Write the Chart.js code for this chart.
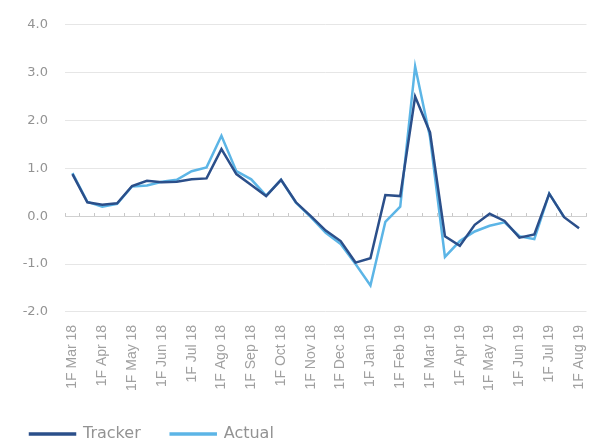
<!DOCTYPE html>
<html>
<head>
    <title>Tracker vs Actual</title>
    <script src="https://cdn.jsdelivr.net/npm/chart.js@4.4.0/dist/chart.umd.min.js"></script>
    <style>
        html, body { margin: 0; padding: 0; background: #fff; }
    </style>
</head>
<body>
    <canvas id="trackerChart" width="601" height="441"></canvas>

    <script>
        const periods = [
            '1F Mar 18', '2F Mar 18', '1F Apr 18', '2F Apr 18', '1F May 18', '2F May 18',
            '1F Jun 18', '2F Jun 18', '1F Jul 18', '2F Jul 18', '1F Ago 18', '2F Ago 18',
            '1F Sep 18', '2F Sep 18', '1F Oct 18', '2F Oct 18', '1F Nov 18', '2F Nov 18',
            '1F Dec 18', '2F Dec 18', '1F Jan 19', '2F Jan 19', '1F Feb 19', '2F Feb 19',
            '1F Mar 19', '2F Mar 19', '1F Apr 19', '2F Apr 19', '1F May 19', '2F May 19',
            '1F Jun 19', '2F Jun 19', '1F Jul 19', '2F Jul 19', '1F Aug 19'
        ];
        const tracker = [
            0.88, 0.29, 0.24, 0.27, 0.63, 0.74, 0.71, 0.72, 0.77, 0.79, 1.40, 0.88,
            0.65, 0.42, 0.76, 0.29, 0.00, -0.30, -0.52, -0.97, -0.88, 0.44, 0.42, 2.50,
            1.75, -0.42, -0.62, -0.18, 0.05, -0.10, -0.45, -0.38, 0.47, -0.02, -0.25
        ];
        const actual = [
            0.90, 0.30, 0.20, 0.26, 0.62, 0.64, 0.72, 0.76, 0.94, 1.02, 1.68, 0.94,
            0.77, 0.43, 0.76, 0.28, -0.02, -0.35, -0.58, -1.00, -1.45, -0.12, 0.20, 3.13,
            1.65, -0.85, -0.52, -0.32, -0.20, -0.13, -0.42, -0.48, 0.47, -0.02, null
        ];

        const grey = '#939393';

        // legend keeps wide gaps between items but less empty height
        const legendFit = {
            id: 'legendFit',
            beforeLayout(chart) {
                const legend = chart.legend;
                if (!legend || legend._patched) return;
                const fit = legend.fit;
                legend.fit = function () {
                    fit.call(this);
                    this.height -= 11;
                };
                legend._patched = true;
            }
        };

        new Chart(document.getElementById('trackerChart'), {
            type: 'line',
            data: {
                labels: periods,
                datasets: [{
                    label: 'Tracker',
                    data: tracker,
                    borderColor: '#2b4f8a',
                    backgroundColor: '#2b4f8a',
                    borderWidth: 2.5,
                    pointRadius: 0,
                    tension: 0
                }, {
                    label: 'Actual',
                    data: actual,
                    borderColor: '#5cb5e6',
                    backgroundColor: '#5cb5e6',
                    borderWidth: 2.5,
                    pointRadius: 0,
                    tension: 0
                }]
            },
            plugins: [legendFit],
            options: {
                responsive: false,
                animation: false,
                layout: { padding: { top: 8, right: 12, left: 0, bottom: 0 } },
                plugins: {
                    tooltip: { enabled: false },
                    legend: {
                        position: 'bottom',
                        align: 'start',
                        labels: {
                            boxWidth: 45,
                            boxHeight: 1,
                            padding: 30,
                            color: grey,
                            font: { family: 'DejaVu Sans', size: 16 }
                        }
                    }
                },
                scales: {
                    x: {
                        offset: true,
                        grid: { display: false },
                        border: { display: false },
                        ticks: {
                            autoSkip: false,
                            minRotation: 90,
                            maxRotation: 90,
                            padding: 5,
                            color: '#a0a0a0',
                            font: { family: '"Liberation Sans Narrow", "Liberation Sans"', size: 14 },
                            callback: function (value, index) {
                                return index % 2 === 0 ? this.getLabelForValue(value) : '';
                            }
                        }
                    },
                    x2: {
                        axis: 'x',
                        type: 'category',
                        position: { y: 0 },
                        offset: true,
                        grid: {
                            offset: true,
                            drawOnChartArea: false,
                            tickLength: -4,
                            color: '#c8c8c8'
                        },
                        border: { display: true, color: '#d0d0d0' },
                        ticks: { display: false, autoSkip: false }
                    },
                    y: {
                        min: -2,
                        max: 4,
                        afterFit: function (scale) { scale.width = 65; },
                        ticks: {
                            stepSize: 1,
                            padding: 17,
                            color: grey,
                            font: { family: 'DejaVu Sans', size: 13 },
                            callback: function (value) { return value.toFixed(1); }
                        },
                        grid: { color: '#e6e6e6', drawTicks: false },
                        border: { display: false }
                    }
                }
            }
        });
    </script>
</body>
</html>
